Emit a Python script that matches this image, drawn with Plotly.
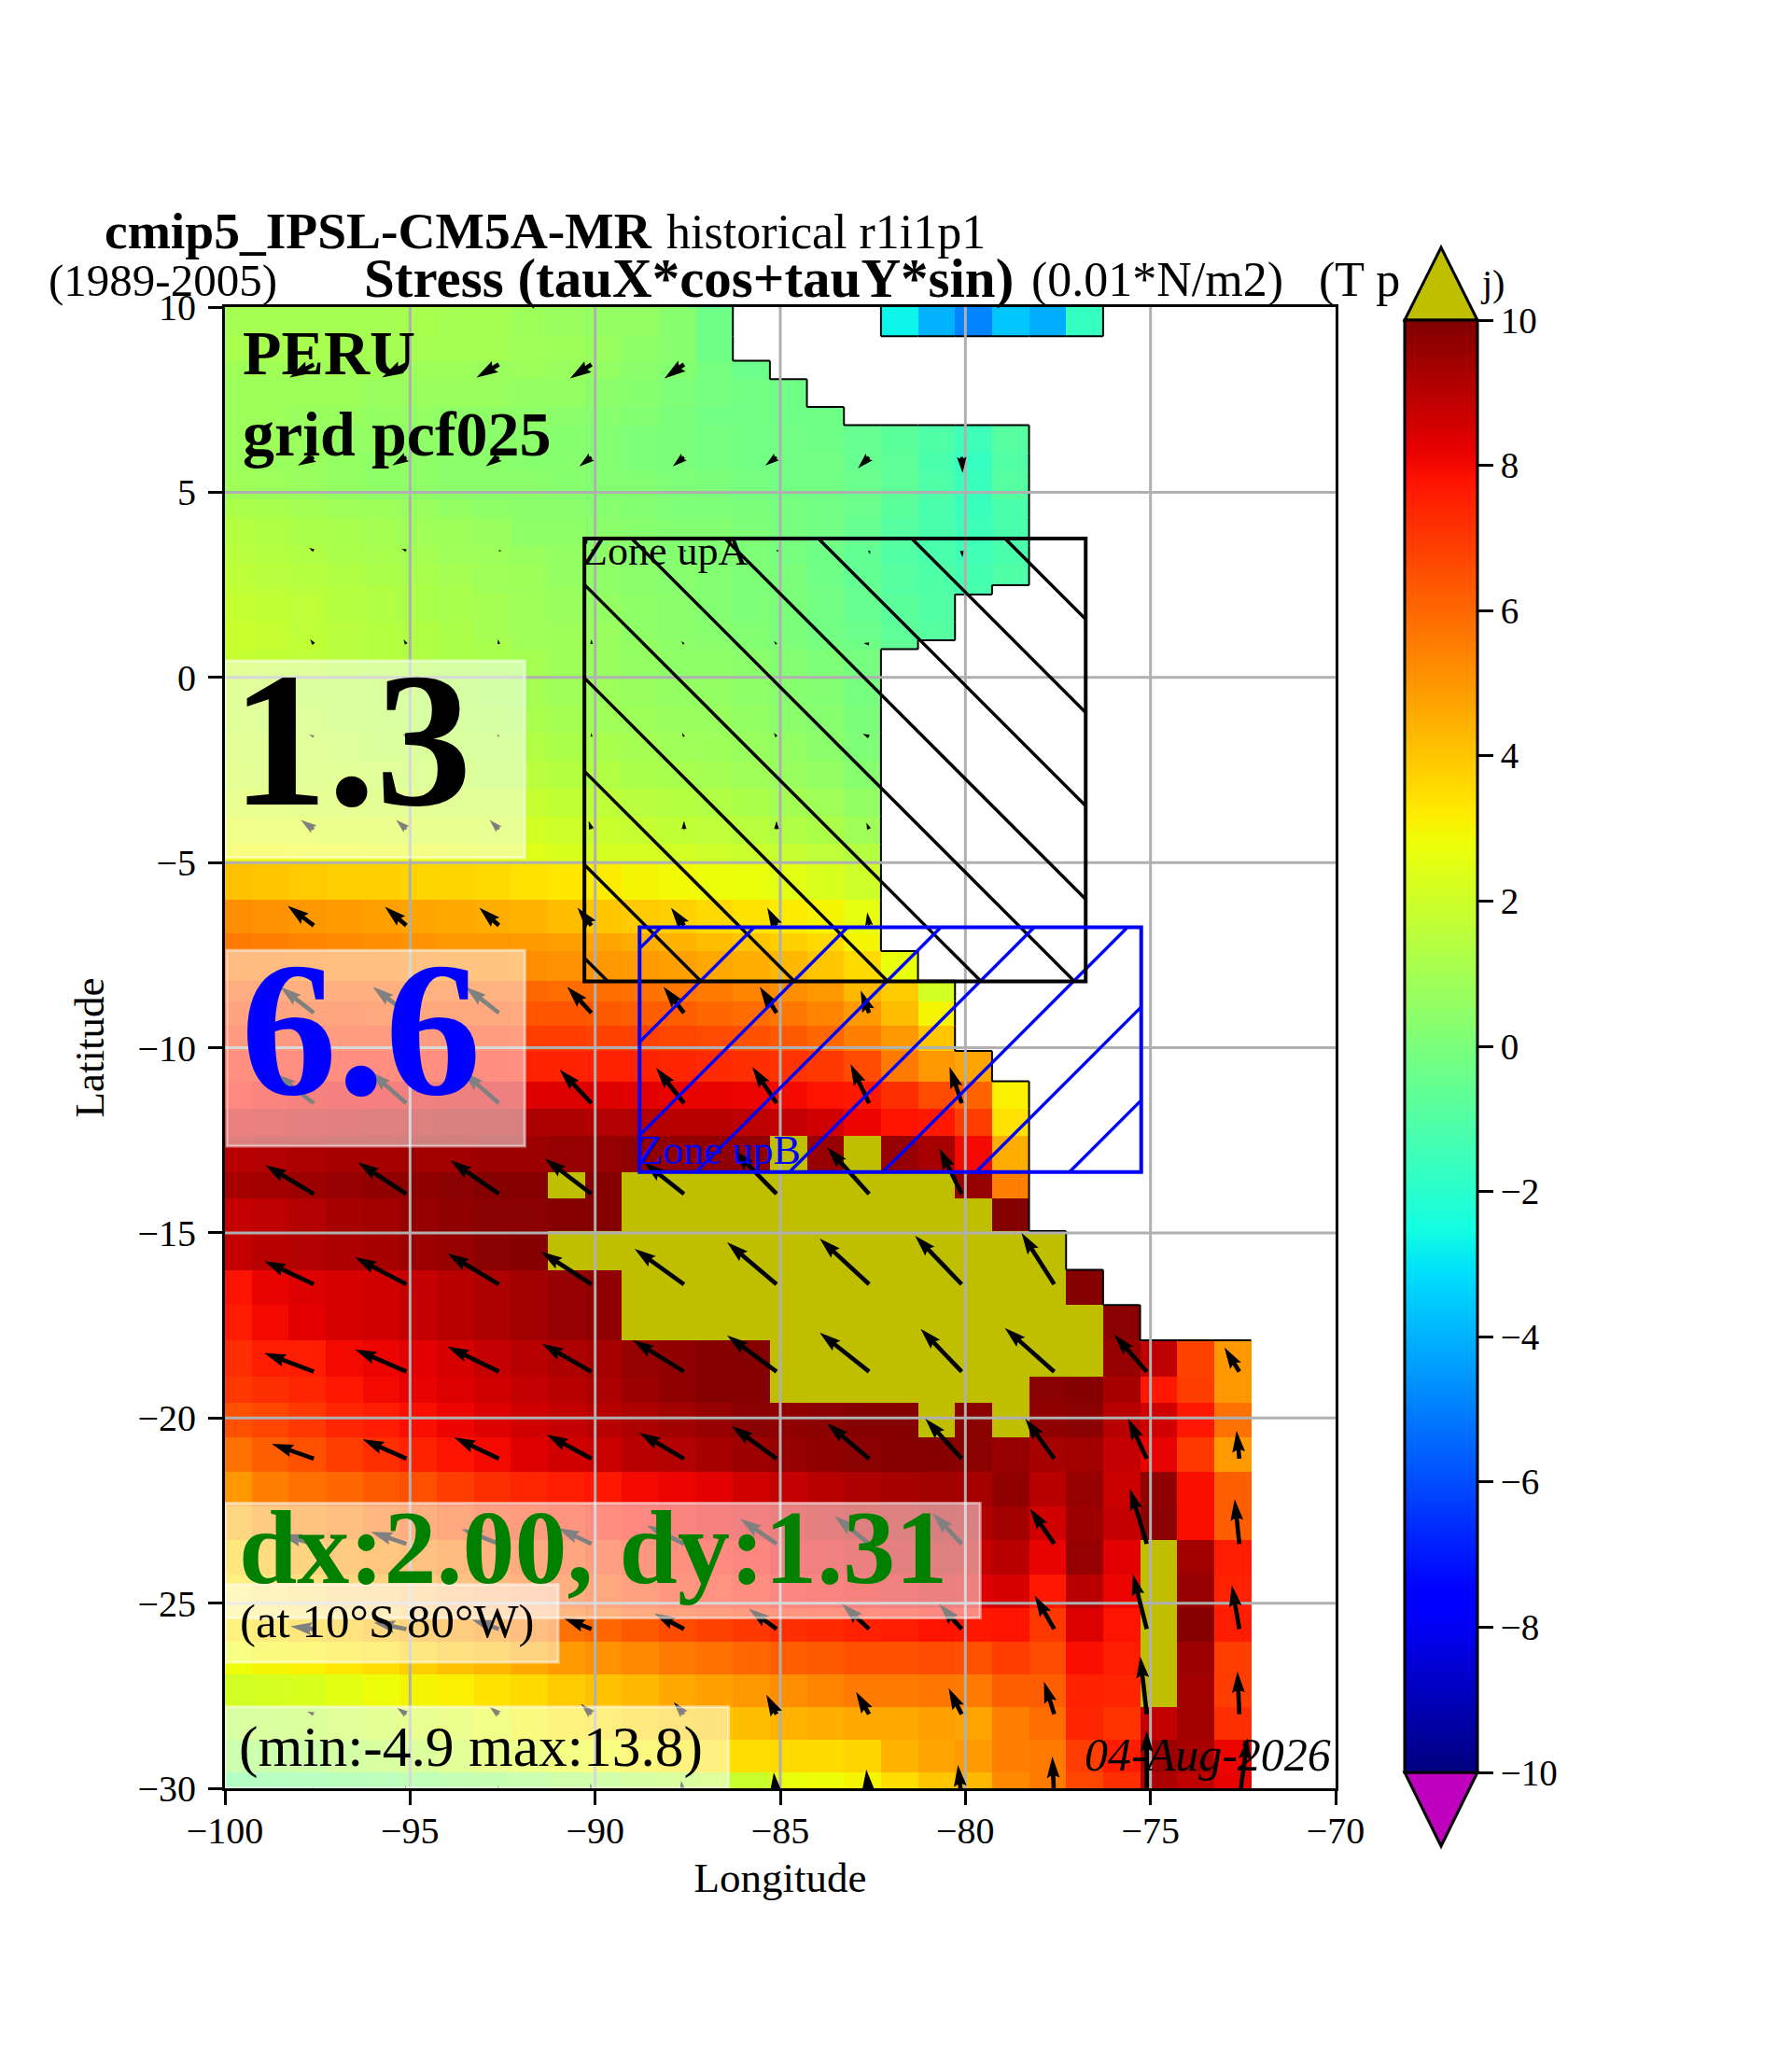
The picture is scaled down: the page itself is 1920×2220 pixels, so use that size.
import numpy as np
import plotly.graph_objects as go

# cell edges of the field (degrees)
lon_edges = [-100.0] + [-99.28 + i for i in range(28)]
lat_edges = [10, 9.21, 8.55, 8.05, 7.30, 6.81, 6.06, 5.56, 4.81, 4.31, 3.56, 3.06, 2.49, 2.24, 1.50, 1.00, 0.76, 0.0,
             -0.75, -1.5, -2.25, -3.0, -3.75, -4.5, -5.0, -6.0, -6.91, -7.39, -8.19, -8.74, -9.42, -10.09, -10.91,
             -11.64, -12.38, -13.36, -14.07, -14.95, -16.0, -16.95, -17.9, -18.88, -19.6, -20.53, -21.45, -22.38,
             -23.3, -24.22, -25.13, -26.05, -26.93, -27.81, -28.69, -29.57, -30]

# wind stress values, north to south; short rows stop at the coast. O = above the colour range, N = land
O = 11.0
N = None
field_rows = [
    [1.0,1.0,1.0,1.0,1.0,1.1,1.0,1.0,0.8,0.7,0.6,0.6,0.3,-0.3,N,N,N,N,-2.7,-4.0,-4.9,-3.6,-4.1,-1.7],
    [1.1,1.1,1.1,1.0,1.0,1.0,1.0,1.0,0.9,0.8,0.7,0.5,0.3,-0.3],
    [0.9,0.9,0.9,0.9,0.9,0.8,0.8,0.7,0.8,0.7,0.6,0.4,0.2,-0.1,-0.4],
    [0.8,0.8,0.8,0.8,0.7,0.7,0.7,0.7,0.6,0.6,0.4,0.3,0.1,-0.1,-0.2,-0.3],
    [0.8,0.8,0.7,0.7,0.6,0.6,0.5,0.5,0.5,0.4,0.3,0.2,0.0,-0.2,-0.2,-0.3,-0.3],
    [0.8,0.8,0.7,0.6,0.6,0.5,0.5,0.4,0.4,0.3,0.2,0.1,0.0,-0.1,-0.2,-0.2,-0.3,-0.5,-0.8,-1.1,-1.5,-0.9],
    [0.8,0.7,0.7,0.6,0.5,0.5,0.4,0.4,0.3,0.3,0.2,0.1,0.0,-0.1,-0.2,-0.2,-0.2,-0.5,-0.7,-1.2,-1.7,-1.0],
    [0.9,0.8,0.7,0.6,0.5,0.5,0.4,0.4,0.4,0.3,0.2,0.2,0.1,0.0,-0.1,-0.2,-0.2,-0.4,-0.7,-1.1,-1.6,-0.9],
    [1.2,1.1,1.0,0.9,0.8,0.7,0.6,0.5,0.4,0.4,0.3,0.2,0.1,0.1,0.0,-0.1,-0.2,-0.4,-0.8,-1.2,-1.6,-1.2],
    [1.4,1.3,1.2,1.1,1.0,0.9,0.8,0.7,0.5,0.5,0.4,0.3,0.2,0.2,0.1,-0.1,-0.2,-0.5,-0.9,-1.2,-1.5,-1.2],
    [1.5,1.4,1.3,1.2,1.1,1.0,0.9,0.8,0.7,0.6,0.5,0.3,0.2,0.2,0.1,-0.1,-0.3,-0.6,-1.0,-1.2,-1.4,-1.2],
    [1.6,1.5,1.4,1.3,1.2,1.1,1.0,0.9,0.8,0.6,0.5,0.4,0.3,0.2,0.1,0.0,-0.3,-0.6,-0.9,-1.1,-1.3,-1.1],
    [1.7,1.6,1.5,1.4,1.3,1.2,1.1,0.9,0.8,0.7,0.5,0.4,0.3,0.2,0.1,0.0,-0.2,-0.5,-0.9,-1.1,-1.2],
    [1.8,1.7,1.6,1.4,1.3,1.2,1.1,1.0,0.9,0.7,0.6,0.5,0.4,0.2,0.1,0.0,-0.2,-0.5,-0.8,-1.0],
    [1.9,1.8,1.6,1.5,1.4,1.3,1.2,1.0,0.9,0.8,0.7,0.5,0.4,0.3,0.2,0.0,-0.2,-0.4,-0.7,-0.9],
    [1.9,1.8,1.7,1.5,1.4,1.3,1.2,1.1,0.9,0.8,0.7,0.6,0.5,0.4,0.2,0.1,-0.1,-0.3,-0.6],
    [1.8,1.7,1.6,1.5,1.4,1.3,1.2,1.1,1.0,0.8,0.7,0.6,0.5,0.5,0.4,0.2,0.1,-0.1],
    [1.7,1.6,1.5,1.5,1.4,1.3,1.2,1.1,1.0,0.9,0.8,0.7,0.6,0.6,0.5,0.3,0.2,-0.1],
    [1.7,1.6,1.6,1.5,1.4,1.3,1.3,1.2,1.1,1.0,0.9,0.8,0.7,0.7,0.6,0.4,0.3,0.0],
    [1.8,1.8,1.7,1.6,1.5,1.5,1.4,1.3,1.3,1.2,1.1,1.0,0.9,0.8,0.7,0.6,0.4,0.1],
    [2.0,1.9,1.8,1.8,1.7,1.6,1.6,1.5,1.5,1.4,1.3,1.2,1.1,1.0,0.9,0.7,0.6,0.3],
    [2.2,2.1,2.0,2.0,1.9,1.9,1.8,1.8,1.8,1.7,1.6,1.5,1.4,1.3,1.2,1.0,0.9,0.6],
    [2.5,2.4,2.4,2.3,2.3,2.2,2.2,2.1,2.1,2.0,1.9,1.8,1.7,1.6,1.5,1.3,1.2,0.9],
    [2.9,2.9,2.8,2.8,2.7,2.7,2.6,2.5,2.4,2.3,2.2,2.2,2.1,2.0,1.9,1.8,1.6,1.4],
    [4.1,4.0,3.9,3.8,3.8,3.7,3.7,3.6,3.4,3.3,3.2,3.0,2.9,2.8,2.7,2.5,2.3,2.0],
    [5.2,5.1,5.0,4.9,4.8,4.7,4.6,4.5,4.4,4.2,4.0,3.9,3.8,3.6,3.4,3.2,3.0,2.6],
    [5.6,5.5,5.4,5.3,5.2,5.1,5.0,5.0,4.9,4.8,4.7,4.5,4.4,4.2,4.0,3.8,3.6,3.0],
    [5.7,5.7,5.6,5.5,5.5,5.4,5.3,5.3,5.2,5.1,5.0,4.9,4.8,4.6,4.5,4.3,4.0,3.6,2.7],
    [6.3,6.3,6.2,6.2,6.2,6.1,6.1,6.0,6.0,5.9,5.9,5.8,5.7,5.6,5.4,5.2,5.0,4.3,3.9,2.1],
    [6.7,6.7,6.6,6.6,6.5,6.5,6.5,6.5,6.4,6.4,6.3,6.2,6.2,6.0,5.9,5.7,5.4,4.9,4.2,3.0],
    [7.1,7.1,7.1,7.0,7.0,7.0,7.0,7.0,6.9,6.9,6.8,6.8,6.7,6.6,6.5,6.3,6.0,5.5,5.0,4.0],
    [7.5,7.5,7.6,7.6,7.6,7.6,7.6,7.6,7.5,7.5,7.5,7.5,7.4,7.3,7.2,7.1,7.0,6.6,5.6,5.0,4.7],
    [7.8,8.0,8.1,8.2,8.2,8.3,8.4,8.4,8.4,8.4,8.4,8.3,8.2,8.2,8.1,8.0,7.8,7.7,7.2,6.6,6.1,3.1],
    [8.5,8.6,8.7,8.8,8.9,9.0,9.1,9.1,9.2,9.2,9.1,9.1,9.0,9.0,8.9,8.8,8.6,8.1,7.8,7.7,6.9,3.4],
    [9.0,9.1,9.2,9.3,9.3,9.4,9.4,9.5,9.5,9.6,9.6,9.7,9.7,9.7,9.7,O,9.6,O,9.6,9.3,8.0,4.5],
    [9.3,9.4,9.5,9.6,9.7,9.7,9.8,9.9,9.9,O,9.9,O,O,O,O,O,O,O,O,O,9.6,5.5],
    [8.8,8.9,9.1,9.3,9.4,9.6,9.7,9.8,9.8,9.9,9.9,O,O,O,O,O,O,O,O,O,O,9.9],
    [8.8,9.0,9.1,9.2,9.3,9.5,9.6,9.8,9.9,O,O,O,O,O,O,O,O,O,O,O,O,O,O],
    [7.8,8.2,8.4,8.5,8.6,8.8,9.0,9.2,9.4,9.6,9.7,O,O,O,O,O,O,O,O,O,O,O,O,9.9],
    [7.6,8.0,8.3,8.5,8.6,8.8,9.0,9.2,9.4,9.6,9.7,O,O,O,O,O,O,O,O,O,O,O,O,O,9.8],
    [7.2,7.6,7.6,8.0,8.1,8.3,8.5,8.8,9.0,9.2,9.3,9.6,9.7,9.9,9.9,O,O,O,O,O,O,O,O,O,9.6,8.9,6.8,5.0],
    [7.0,7.2,7.4,7.7,8.0,8.2,8.4,8.6,8.8,9.0,9.2,9.5,9.7,9.9,9.9,O,O,O,O,O,O,O,9.8,9.9,9.3,7.7,6.9,5.0],
    [6.5,6.7,7.0,7.4,7.6,7.9,8.1,8.4,8.6,8.8,9.0,9.2,9.4,9.6,9.8,9.7,9.8,9.9,9.9,O,9.8,O,9.7,9.8,9.0,8.6,7.7,5.8],
    [5.8,6.2,6.5,6.9,7.2,7.5,7.8,8.0,8.4,8.6,8.7,9.0,9.1,9.3,9.5,9.6,9.7,9.8,9.9,9.9,9.8,9.6,9.3,9.4,8.8,8.2,7.0,4.9],
    [5.0,5.5,5.8,6.0,6.3,6.5,6.9,7.2,7.4,7.6,7.7,8.0,8.1,8.3,8.6,8.8,9.0,9.2,9.3,9.4,9.3,9.7,9.0,9.6,8.7,9.7,7.9,6.2],
    [4.5,5.0,5.3,5.5,5.9,6.2,6.5,6.8,7.0,7.3,7.6,7.8,8.0,8.1,8.3,8.5,8.7,8.9,9.0,9.2,9.1,9.4,8.6,9.5,8.8,9.8,7.9,6.2],
    [3.8,4.3,4.6,5.0,5.2,5.4,5.7,6.0,6.4,6.6,6.9,7.2,7.5,7.7,7.9,8.2,8.3,8.5,8.7,8.9,8.8,9.0,8.2,9.6,8.3,O,9.4,7.6],
    [3.5,3.8,4.1,4.5,4.7,5.0,5.4,5.7,6.0,6.2,6.5,6.8,7.2,7.4,7.6,7.9,8.0,8.1,8.3,8.5,8.4,8.5,7.7,9.0,8.1,O,9.6,7.5],
    [3.3,3.6,3.8,4.0,4.3,4.6,4.9,5.2,5.5,5.8,6.0,6.3,6.6,6.8,7.0,7.2,7.3,7.5,7.6,7.8,7.7,7.8,7.0,8.4,7.8,O,9.9,7.6],
    [2.8,3.0,3.1,3.3,3.5,3.8,4.1,4.3,4.6,4.9,5.1,5.3,5.6,5.8,6.0,6.2,6.3,6.5,6.5,6.6,6.5,6.9,6.6,7.9,7.6,O,9.5,6.9],
    [2.1,2.2,2.3,2.5,2.8,3.0,3.1,3.4,3.6,3.9,4.1,4.3,4.6,4.8,5.0,5.2,5.4,5.6,5.6,5.7,5.6,6.2,6.2,7.5,7.4,O,9.4,6.9],
    [1.3,1.4,1.5,1.7,1.9,2.1,2.3,2.6,3.0,3.3,3.5,3.7,3.9,4.0,4.2,4.4,4.5,4.6,4.6,4.8,4.7,5.5,5.9,7.4,7.1,8.8,9.4,7.2],
    [0.7,0.8,0.9,1.1,1.3,1.5,1.8,2.1,2.4,2.7,2.9,3.1,3.3,3.4,3.5,3.6,3.6,3.7,4.4,4.7,4.9,5.5,5.6,6.9,7.6,9.5,9.3,8.1],
    [-0.4,-0.3,-0.2,-0.1,0.0,0.2,0.4,0.5,0.7,0.9,1.0,1.2,1.4,1.6,1.9,2.7,2.8,3.0,3.5,4.0,4.3,5.3,5.6,6.7,7.2,9.2,8.9,8.2],
]

# stress arrows: tail positions and components (tauX, tauY), north to south
arrow_lons = [-97.6, -95.1, -92.6, -90.1, -87.6, -85.1, -82.6, -80.1, -77.6, -75.1, -72.6]
arrow_lats = [8.45, 5.95, 3.42, 0.9, -1.6, -4.1, -6.7, -9.06, -11.5, -13.95, -16.39, -18.75, -21.1, -23.4, -25.7, -28.0, -30.3]
tau_x = [
    [-2.6,-2.6,-2.4,-2.3,-2.1,N,N,N,N,N,N],
    [-1.7,-1.5,-1.4,-1.3,-1.2,-1.2,-1.2,0.1,N,N,N],
    [-0.5,-0.5,0.0,0.1,0.0,0.0,0.1,0.1,N,N,N],
    [-0.4,-0.3,-0.1,0.0,-0.3,-0.3,-0.6,N,N,N,N],
    [-0.5,-0.4,-0.2,0.0,-0.2,-0.3,-0.7,N,N,N,N],
    [-1.4,-1.1,-1.0,-0.3,0.0,0.0,-0.3,N,N,N,N],
    [-2.8,-2.3,-2.1,-1.5,-1.4,-1.0,-0.2,N,N,N,N],
    [-3.6,-3.6,-3.6,-2.6,-2.2,-1.8,-0.9,N,N,N,N],
    [-4.2,-3.9,-3.9,-3.4,-3.0,-2.6,-2.0,-1.3,N,N,N],
    [-5.2,-5.2,-5.2,-5.0,-4.3,-4.6,-4.5,-2.4,N,N,N],
    [-5.3,-5.5,-5.5,-5.4,-5.3,-5.3,-5.3,-5.0,-3.5,N,N],
    [-5.3,-5.5,-5.5,-5.3,-5.5,-5.3,-5.3,-4.4,-5.3,-3.5,-1.6],
    [-4.5,-4.7,-4.8,-4.8,-4.8,-4.8,-4.5,-3.9,-3.1,-2.0,-0.3],
    [-3.6,-3.8,-4.0,-3.6,-4.0,-3.9,-3.7,-3.1,-2.6,-1.8,-0.5],
    [-2.5,-3.5,-2.9,-3.0,-3.2,-3.0,-2.9,-2.4,-2.1,-1.5,-0.8],
    [-0.7,-1.0,-1.0,-1.1,-1.1,-1.1,-1.4,-1.4,-1.1,-0.7,-0.2],
    [-0.1,-0.1,-0.1,-0.1,-0.3,-0.3,-0.3,-0.4,-0.2,0.0,0.9],
]
tau_y = [
    [-1.4,-1.4,-1.4,-1.5,-1.5,N,N,N,N,N,N],
    [-0.9,-0.9,-1.0,-1.0,-1.0,-0.9,-1.2,-1.7,N,N,N],
    [0.3,0.2,0.0,0.1,0.0,0.0,-0.4,-0.7,N,N,N],
    [0.5,0.5,0.5,0.5,0.3,0.3,0.1,N,N,N,N],
    [0.2,0.3,0.3,0.4,0.4,0.4,0.3,N,N,N,N],
    [1.0,1.0,1.0,0.9,0.9,0.9,0.7,N,N,N,N],
    [2.1,2.0,1.9,1.9,1.9,1.9,1.4,N,N,N,N],
    [2.8,2.8,2.8,2.8,2.8,2.8,2.4,N,N,N,N],
    [3.2,3.4,3.4,3.6,3.8,3.9,4.2,3.9,N,N,N],
    [3.1,3.4,3.6,3.8,3.4,4.7,5.0,4.9,N,N,N],
    [2.5,2.9,3.3,3.5,3.8,4.5,4.9,5.2,5.5,N,N],
    [2.0,2.4,2.7,3.0,3.4,3.9,4.2,4.6,4.7,4.0,2.6],
    [1.6,2.1,2.3,2.6,2.8,3.5,3.8,4.3,4.3,4.3,3.0],
    [1.0,1.3,1.6,1.7,2.0,2.7,3.0,3.3,3.8,5.9,4.8],
    [0.3,0.7,1.0,1.2,1.7,2.2,2.7,2.7,3.6,5.9,4.7],
    [0.3,0.7,0.8,1.1,1.3,2.1,2.4,2.8,3.5,6.2,4.6],
    [1.4,1.5,1.5,1.7,2.0,2.9,3.2,3.7,4.6,7.4,6.6],
]

lon_ticks = [-100, -95, -90, -85, -80, -75, -70]
lat_ticks = [-30, -25, -20, -15, -10, -5, 0, 5, 10]
cbar_ticks = [-10, -8, -6, -4, -2, 0, 2, 4, 6, 8, 10]

# jet, as matplotlib builds it
jet_r = [(0, 0), (0.35, 0), (0.66, 1), (0.89, 1), (1, 0.5)]
jet_g = [(0, 0), (0.125, 0), (0.375, 1), (0.64, 1), (0.91, 0), (1, 0)]
jet_b = [(0, 0.5), (0.11, 1), (0.34, 1), (0.65, 0), (1, 0)]
jet = []
for t in np.linspace(0, 1, 129):
    r, g, b = [np.interp(t, *zip(*c)) for c in (jet_r, jet_g, jet_b)]
    jet.append([float(t), "rgb(%d,%d,%d)" % (r * 255, g * 255, b * 255)])

OLIVE = "#bfbf00"
MAGENTA = "#bf00bf"
SERIF = "Liberation Serif"
W, H = 1920, 2220
AX_L, AX_R, AX_T, AX_B = 241, 1431, 329, 1916
PX_PER_DEG = (AX_R - AX_L) / 30.0

# paper coordinates from page pixels
def fx(px):
    return (px - AX_L) / (AX_R - AX_L)

def fy(px):
    return (AX_B - px) / (AX_B - AX_T)

field = np.full((len(lat_edges) - 1, len(lon_edges) - 1), np.nan)
for j, row in enumerate(field_rows):
    for i, val in enumerate(row):
        if val is not None:
            field[j, i] = val

# same shape as matplotlib's quiver arrow, drawn in data units
def arrow_polygon(x0, y0, u, v, width=4.6):
    length = max(10.0 * np.hypot(u, v), 3.0)
    w = width * min(1.0, length / (5 * width))
    ang = np.arctan2(v, u)
    pts = [(0, w / 2), (length - 4.5 * w, w / 2), (length - 5 * w, 1.5 * w), (length, 0),
           (length - 5 * w, -1.5 * w), (length - 4.5 * w, -w / 2), (0, -w / 2), (0, w / 2)]
    xs, ys = [], []
    for a, b in pts:
        xs.append(x0 + (a * np.cos(ang) - b * np.sin(ang)) / PX_PER_DEG)
        ys.append(y0 + (a * np.sin(ang) + b * np.cos(ang)) / PX_PER_DEG)
    return xs + [None], ys + [None]

# hatch lines clipped to a box; sign=-1 for "\", sign=+1 for "/"
def hatch_lines(x0, x1, y0, y1, sign, start, step=100 / PX_PER_DEG):
    xs, ys = [], []
    for k in range(-12, 12):
        c = start + k * step
        seg = []
        for x in (x0, x1):
            y = sign * x + c
            if y0 <= y <= y1:
                seg.append((x, y))
        for y in (y0, y1):
            x = (y - c) * sign
            if x0 <= x <= x1:
                seg.append((x, y))
        if len(seg) >= 2:
            xs += [seg[0][0], seg[1][0], None]
            ys += [seg[0][1], seg[1][1], None]
    return xs, ys

fig = go.Figure()

flip = field[::-1]
main_z = np.where(flip > 10, np.nan, flip)
over_z = np.where(flip > 10, 1.0, np.nan)
as_list = lambda a: [[None if np.isnan(v) else float(v) for v in r] for r in a]
fig.add_trace(go.Heatmap(
    x=lon_edges, y=lat_edges[::-1], z=as_list(main_z), zmin=-10, zmax=10, colorscale=jet, hoverinfo="skip",
    colorbar=dict(
        x=fx(1505), xanchor="left", xpad=0, thickness=78,
        y=fy((343 + 1899) / 2), yanchor="middle", ypad=0, lenmode="pixels", len=1899 - 343,
        tickvals=cbar_ticks, ticks="outside", ticklen=16, tickwidth=3, tickcolor="black",
        outlinewidth=3, outlinecolor="black", tickfont=dict(family=SERIF, size=39, color="black"),
    ),
))
fig.add_trace(go.Heatmap(
    x=lon_edges, y=lat_edges[::-1], z=as_list(over_z), zmin=0, zmax=1, hoverinfo="skip", showscale=False,
    colorscale=[[0, OLIVE], [1, OLIVE]],
))

# thin coast outline, from the mask
cx, cy = [], []
land = np.isnan(field)
for j in range(field.shape[0]):
    for i in range(field.shape[1]):
        if i + 1 < field.shape[1] and land[j, i] != land[j, i + 1]:
            cx += [lon_edges[i + 1], lon_edges[i + 1], None]
            cy += [lat_edges[j], lat_edges[j + 1], None]
        if j + 1 < field.shape[0] and land[j, i] != land[j + 1, i]:
            cx += [lon_edges[i], lon_edges[i + 1], None]
            cy += [lat_edges[j + 1], lat_edges[j + 1], None]
fig.add_trace(go.Scatter(x=cx, y=cy, mode="lines", line=dict(color="black", width=2), hoverinfo="skip", showlegend=False))

# grid has to sit above the heatmap
gx, gy = [], []
for v in lon_ticks[1:-1]:
    gx += [v, v, None]
    gy += [-30, 10, None]
for v in lat_ticks[1:-1]:
    gx += [-100, -70, None]
    gy += [v, v, None]
fig.add_trace(go.Scatter(x=gx, y=gy, mode="lines", line=dict(color="#b0b0b0", width=3), hoverinfo="skip", showlegend=False))

ax, ay = [], []
for j, lat in enumerate(arrow_lats):
    for i, lon in enumerate(arrow_lons):
        if tau_x[j][i] is None:
            continue
        xs, ys = arrow_polygon(lon, lat, tau_x[j][i], tau_y[j][i])
        ax += xs
        ay += ys
fig.add_trace(go.Scatter(x=ax, y=ay, mode="lines", fill="toself", fillcolor="black", line=dict(color="black", width=0),
                         hoverinfo="skip", showlegend=False))

# zones
ZA = (-90.29, -76.75, -8.21, 3.75)
ZB = (-88.8, -75.25, -13.36, -6.75)
hx, hy = hatch_lines(*ZA, -1, -75.18)
fig.add_trace(go.Scatter(x=hx, y=hy, mode="lines", line=dict(color="black", width=3.4), hoverinfo="skip", showlegend=False))
hx, hy = hatch_lines(*ZB, 1, 66.35)
fig.add_trace(go.Scatter(x=hx, y=hy, mode="lines", line=dict(color="blue", width=3.4), hoverinfo="skip", showlegend=False))

shapes = []
for zone, col in ((ZA, "black"), (ZB, "blue")):
    shapes.append(dict(type="rect", x0=zone[0], x1=zone[1], y0=zone[2], y1=zone[3], xref="x", yref="y",
                       line=dict(color=col, width=4), layer="above"))

# translucent boxes behind the big labels
for bx0, bx1, by0, by1 in ((-100, -91.9, -4.87, 0.45), (-99.95, -91.9, -12.66, -7.37), (-100, -79.6, -25.4, -22.3),
                           (-100, -91.0, -26.6, -24.5), (-100, -86.4, -30.0, -27.8)):
    shapes.append(dict(type="rect", x0=bx0, x1=bx1, y0=by0, y1=by1, xref="x", yref="y", layer="above",
                       fillcolor="rgba(255,255,255,0.5)", line=dict(color="rgba(255,255,255,0.5)", width=3)))

# colourbar end triangles
top = "M %f %f L %f %f L %f %f Z" % (fx(1505), fy(343), fx(1544), fy(265), fx(1583), fy(343))
bot = "M %f %f L %f %f L %f %f Z" % (fx(1505), fy(1899), fx(1544), fy(1978), fx(1583), fy(1899))
shapes.append(dict(type="path", path=top, xref="paper", yref="paper", fillcolor=OLIVE, line=dict(color="black", width=3), layer="above"))
shapes.append(dict(type="path", path=bot, xref="paper", yref="paper", fillcolor=MAGENTA, line=dict(color="black", width=3), layer="above"))

# every label sits on its baseline given in page pixels
def label(x, base, text, size, color="black", bold=False, italic=False):
    if bold:
        text = "<b>%s</b>" % text
    if italic:
        text = "<i>%s</i>" % text
    return dict(x=fx(x), y=fy(base - 0.33 * size), xref="paper", yref="paper", text=text, showarrow=False,
                xanchor="left", yanchor="middle", font=dict(family=SERIF, size=size, color=color))

annotations = [
    label(110, 266, "cmip5_IPSL-CM5A-MR", 55.5, bold=True),
    label(712, 266, "historical r1i1p1", 52),
    label(50, 317, "(1989-2005)", 49),
    label(388, 317, "Stress (tauX*cos+tauY*sin)", 59, bold=True),
    label(1103, 317, "(0.01*N/m2)", 52),
    label(1411, 317, "(T p", 52),
    label(1584, 317, "j)", 40),
    label(258, 400, "PERU", 68, bold=True),
    label(258, 487, "grid pcf025", 68, bold=True),
    label(246, 860, "1.3", 206, bold=True),
    label(256, 1170, "6.6", 206, color="blue", bold=True),
    label(622, 605, "Zone upA", 44),
    label(681, 1247, "Zone upB", 44, color="blue"),
    label(254, 1695, "dx:2.00, dy:1.31", 112, color="green", bold=True),
    label(255, 1754, "(at 10°S 80°W)", 51),
    label(254, 1892, "(min:-4.9 max:13.8)", 61.5),
    label(1160, 1896, "04-Aug-2026", 50, italic=True),
]

axis_font = dict(family=SERIF, size=40, color="black")
title_font = dict(family=SERIF, size=45, color="black")
fig.update_layout(
    width=W, height=H, margin=dict(l=AX_L, r=W - AX_R, t=AX_T, b=H - AX_B, autoexpand=False),
    plot_bgcolor="white", paper_bgcolor="white", showlegend=False, shapes=shapes, annotations=annotations,
    xaxis=dict(range=[-100, -70], tickvals=lon_ticks, ticks="outside", ticklen=15, tickwidth=3, tickcolor="black",
               showline=True, linecolor="black", linewidth=3, mirror=True, showgrid=False, zeroline=False,
               tickfont=axis_font, ticklabelstandoff=-7, title=dict(text="Longitude", font=title_font, standoff=13)),
    yaxis=dict(range=[-30, 10], tickvals=lat_ticks, ticks="outside", ticklen=15, tickwidth=3, tickcolor="black",
               showline=True, linecolor="black", linewidth=3, mirror=True, showgrid=False, zeroline=False,
               tickfont=axis_font, ticklabelstandoff=5, title=dict(text="Latitude", font=title_font, standoff=22)),
)

fig.write_html("out.html", config={"displayModeBar": False}, post_script="document.body.style.margin='0';")
